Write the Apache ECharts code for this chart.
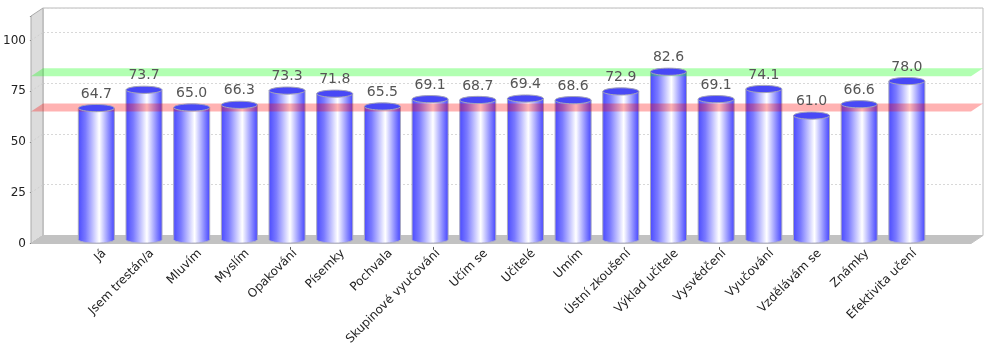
<!DOCTYPE html>
<html>
<head>
<meta charset="utf-8">
<script src="https://cdn.jsdelivr.net/npm/echarts@6/dist/echarts.min.js"></script>
<style>
  html, body { margin: 0; padding: 0; background: #fff; }
  #chart { width: 989px; height: 355px; }
</style>
</head>
<body>
<div id="chart"></div>
<script>
let categories = ['Já', 'Jsem trestán/a', 'Mluvím', 'Myslím', 'Opakování', 'Písemky', 'Pochvala',
  'Skupinové vyučování', 'Učím se', 'Učitelé', 'Umím', 'Ústní zkoušení', 'Výklad učitele',
  'Vysvědčení', 'Vyučování', 'Vzdělávám se', 'Známky', 'Efektivita učení'];
let values = [64.7, 73.7, 65.0, 66.3, 73.3, 71.8, 65.5, 69.1, 68.7, 69.4, 68.6, 72.9, 82.6, 69.1, 74.1, 61.0, 66.6, 78.0];
// the two horizontal planes (green upper, red lower)
let bandValues = [82.4, 65.0];
let bandColors = ['rgba(0,255,0,0.3)', 'rgba(255,0,0,0.3)'];
let yTicks = [0, 25, 50, 75, 100];
let yMax = 112;

// depth of the fake 3d box (pixels, back -> front)
const DX = -12;
const DY = 8;
const FONT = 'DejaVu Sans';
const BAR_W = 0.755;
const RY = 3.6;

let chartDom = document.getElementById('chart');
let chart = echarts.init(chartDom);

const frontOf = (p) => [p[0] + DX, p[1] + DY];

const renderFrame = (params, api) => {
  let bl = api.coord([0, 0]);
  let br = api.coord([1, 0]);
  let tl = api.coord([0, yMax]);
  let children = [];
  // left wall
  children.push({
    type: 'polygon',
    shape: { points: [tl, bl, frontOf(bl), frontOf(tl)] },
    style: { fill: '#dcdcdc', stroke: '#aaaaaa', lineWidth: 1 }
  });
  // dashed lines on the left wall
  yTicks.slice(1).forEach((t) => {
    let p = api.coord([0, t]);
    let f = frontOf(p);
    children.push({
      type: 'line',
      shape: { x1: f[0], y1: f[1], x2: p[0], y2: p[1] },
      style: { stroke: '#cfcfcf', lineWidth: 1, lineDash: [2, 2] }
    });
  });
  // floor
  children.push({
    type: 'polygon',
    shape: { points: [bl, br, frontOf(br), frontOf(bl)] },
    style: { fill: '#c2c2c2', stroke: '#c2c2c2', lineWidth: 1 }
  });
  return { type: 'group', children: children };
}

const renderBand = (params, api) => {
  let v = api.value(1);
  let p0 = api.coord([0, v]);
  let p1 = api.coord([1, v]);
  return {
    type: 'polygon',
    shape: { points: [p0, p1, frontOf(p1), frontOf(p0)] },
    style: { fill: bandColors[params.dataIndex] }
  };
}

// cylinder body
const renderBar = (params, api) => {
  let idx = api.value(0);
  let top = api.coord([idx, api.value(1)]);
  let base = api.coord([idx, 0]);
  let w = api.size([1, 0])[0] * BAR_W;
  let rx = w / 2;
  let x0 = top[0] - rx;
  let grad = new echarts.graphic.LinearGradient(0, 0, 1, 0, [
    { offset: 0, color: '#4c4cff' },
    { offset: 0.2, color: '#7a7aff' },
    { offset: 0.58, color: '#ffffff' },
    { offset: 0.85, color: '#8888ff' },
    { offset: 1, color: '#4848ff' }
  ]);
  return {
    type: 'group',
    children: [
      {
        type: 'ellipse',
        shape: { cx: top[0], cy: base[1], rx: rx, ry: RY },
        style: { fill: grad, stroke: '#b0b0c8', lineWidth: 1 }
      },
      {
        type: 'rect',
        shape: { x: x0, y: top[1], width: w, height: base[1] - top[1] },
        style: { fill: grad }
      },
      {
        type: 'line',
        shape: { x1: x0, y1: top[1], x2: x0, y2: base[1] },
        style: { stroke: '#a8a8c0', lineWidth: 1 }
      },
      {
        type: 'line',
        shape: { x1: x0 + w, y1: top[1], x2: x0 + w, y2: base[1] },
        style: { stroke: '#a8a8c0', lineWidth: 1 }
      }
    ]
  };
}

// cylinder lid, above the planes
const renderTop = (params, api) => {
  let idx = api.value(0);
  let top = api.coord([idx, api.value(1)]);
  let w = api.size([1, 0])[0] * BAR_W;
  return {
    type: 'ellipse',
    shape: { cx: top[0], cy: top[1], rx: w / 2, ry: RY },
    style: { fill: '#4848f6', stroke: '#a4a4b8', lineWidth: 1 }
  };
}

const renderLabel = (params, api) => {
  let idx = api.value(0);
  let v = api.value(1);
  let top = api.coord([idx, v]);
  return {
    type: 'text',
    x: top[0],
    y: top[1] - 7,
    style: {
      text: v.toFixed(1),
      fill: '#555555',
      fontSize: 14,
      fontFamily: FONT,
      align: 'center',
      verticalAlign: 'bottom'
    }
  };
}

let barData = values.map((v, i) => [i, v]);

let option = {
  animation: false,
  textStyle: { fontFamily: FONT },
  grid: [
    // back wall
    { left: 43, right: 6, top: 8, bottom: 119.5, show: true, borderColor: '#bbbbbb', borderWidth: 1 },
    // front edge (y axis labels)
    { left: 31, right: 18, top: 16, bottom: 111.5 },
    // middle depth, where the cylinders stand
    { left: 72.5, right: 58.3, top: 12, bottom: 115.5 },
    // category labels
    { left: 80.5, right: 50.3, top: 16, bottom: 111.5 }
  ],
  xAxis: [
    { gridIndex: 0, type: 'value', min: 0, max: 1, show: false },
    { gridIndex: 1, type: 'value', min: 0, max: 1, show: false },
    { gridIndex: 2, type: 'category', data: categories, show: false },
    {
      gridIndex: 3, type: 'category', data: categories,
      axisLine: { show: false }, axisTick: { show: false },
      axisLabel: { interval: 0, rotate: 45, margin: 8, fontSize: 12, color: '#222222', fontFamily: FONT }
    }
  ],
  yAxis: [
    {
      gridIndex: 0, type: 'value', min: 0, max: yMax, interval: 25,
      axisLine: { show: false }, axisTick: { show: false }, axisLabel: { show: false },
      splitLine: { show: true, lineStyle: { color: '#d8d8d8', type: [2, 2] } }
    },
    {
      gridIndex: 1, type: 'value', min: 0, max: yMax, interval: 25,
      axisLine: { show: true, lineStyle: { color: '#999999' } },
      axisTick: { show: true, length: 4, lineStyle: { color: '#777777' } },
      axisLabel: {
        fontSize: 12, color: '#222222', margin: 8, fontFamily: FONT,
        formatter: (v) => (yTicks.indexOf(v) >= 0 ? String(v) : '')
      },
      splitLine: { show: false }
    },
    { gridIndex: 2, type: 'value', min: 0, max: yMax, show: false },
    { gridIndex: 3, type: 'value', min: 0, max: yMax, show: false }
  ],
  series: [
    {
      type: 'custom', name: 'frame', xAxisIndex: 0, yAxisIndex: 0, z: 1,
      renderItem: renderFrame, data: [[0, 0]], silent: true
    },
    {
      type: 'custom', name: 'bars', xAxisIndex: 2, yAxisIndex: 2, z: 2,
      renderItem: renderBar, data: barData
    },
    {
      type: 'custom', name: 'bands', xAxisIndex: 0, yAxisIndex: 0, z: 3,
      renderItem: renderBand, data: bandValues.map((v) => [0, v]), silent: true
    },
    {
      type: 'custom', name: 'tops', xAxisIndex: 2, yAxisIndex: 2, z: 4,
      renderItem: renderTop, data: barData, silent: true
    },
    {
      type: 'custom', name: 'labels', xAxisIndex: 2, yAxisIndex: 2, z: 5,
      renderItem: renderLabel, data: barData, silent: true
    }
  ]
};

chart.setOption(option);
</script>
</body>
</html>
